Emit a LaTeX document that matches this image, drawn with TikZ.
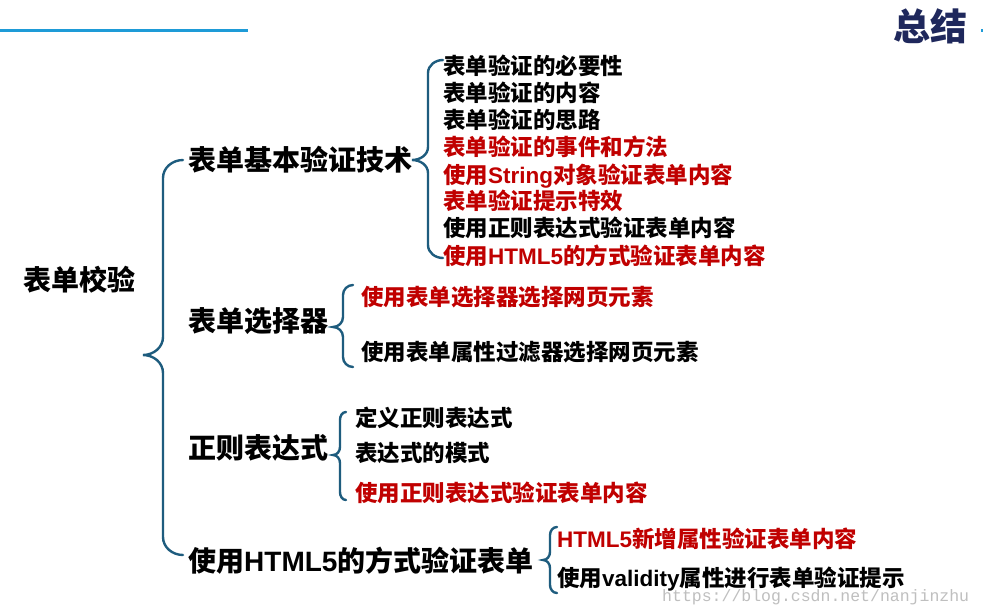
\documentclass[tikz,border=0pt]{standalone}
\usepackage{fontspec}
\setmainfont{Noto Sans CJK SC}
\newfontfamily\latinb{Liberation Sans}[Scale=1.0]
\newfontfamily\wmfont{Liberation Mono}
\definecolor{hotred}{RGB}{192,0,0}
\definecolor{bracecol}{RGB}{30,92,126}
\definecolor{topblue}{RGB}{30,155,215}
\definecolor{navy}{RGB}{31,40,92}
\newcommand\lat[1]{{\latinb\bfseries #1}}
% #1 tip x, #2 tip y, #3 vertical x, #4 end x, #5 top y, #6 bottom y, #7 radius
\newcommand\mybrace[7]{%
  \draw[bracestyle] (#4,#5) to[out=180,in=90] (#3,#5-#7) -- (#3,#2+#7)
    to[out=-90,in=0] (#1,#2) to[out=0,in=90] (#3,#2-#7) -- (#3,#6+#7)
    to[out=-90,in=180] (#4,#6);}
\tikzset{
  bracestyle/.style={draw=bracecol, line width=2.4pt, line cap=round},
  rootnode/.style={anchor=west, inner sep=0pt, font=\fontsize{28}{28}\selectfont\bfseries, text height=23.8pt, text depth=2.8pt},
  lvlone/.style={anchor=west, inner sep=0pt, font=\fontsize{28}{28}\selectfont\bfseries, text height=23.8pt, text depth=2.8pt},
  itemnode/.style={anchor=west, inner sep=0pt, font=\fontsize{22.5}{22.5}\selectfont\bfseries, text height=19.1pt, text depth=2.25pt},
  hot/.style={text=hotred},
}
\begin{document}
\begin{tikzpicture}[x=1pt,y=1pt]
\useasboundingbox (0,0) rectangle (983,-614);
\fill[white] (0,0) rectangle (983,-614);
% top decoration
\draw[topblue, line width=3pt] (0,-30.5) -- (248,-30.5);
\draw[topblue, line width=3pt] (981,-30.5) -- (983,-30.5);
\node[anchor=west, inner sep=0pt, text=navy, font=\fontsize{37}{37}\selectfont\bfseries, text height=31.4pt, text depth=3.7pt] (title) at (893,-27) {总结};
% root
\node[rootnode] (root) at (23,-280) {表单校验};
% level 1
\node[lvlone] (a) at (188,-160) {表单基本验证技术};
\node[lvlone] (b) at (188,-321) {表单选择器};
\node[lvlone] (c) at (188,-448) {正则表达式};
\node[lvlone] (d) at (188,-561) {使用\lat{HTML5}的方式验证表单};
% group a
\node[itemnode] (a1) at (443,-66) {表单验证的必要性};
\node[itemnode] (a2) at (443,-93) {表单验证的内容};
\node[itemnode] (a3) at (443,-120) {表单验证的思路};
\node[itemnode,hot] (a4) at (443,-147) {表单验证的事件和方法};
\node[itemnode,hot] (a5) at (443,-175) {使用\lat{String}对象验证表单内容};
\node[itemnode,hot] (a6) at (443,-201) {表单验证提示特效};
\node[itemnode] (a7) at (443,-228) {使用正则表达式验证表单内容};
\node[itemnode,hot] (a8) at (443,-256) {使用\lat{HTML5}的方式验证表单内容};
% group b
\node[itemnode,hot] (b1) at (361,-297) {使用表单选择器选择网页元素};
\node[itemnode] (b2) at (361,-352) {使用表单属性过滤器选择网页元素};
% group c
\node[itemnode] (c1) at (355,-418) {定义正则表达式};
\node[itemnode] (c2) at (355,-453) {表达式的模式};
\node[itemnode,hot] (c3) at (355,-493) {使用正则表达式验证表单内容};
% group d
\node[itemnode,hot] (d1) at (557,-539) {\lat{HTML5}新增属性验证表单内容};
\node[itemnode] (d2) at (557,-578) {使用\lat{validity}属性进行表单验证提示};
% braces
\mybrace{143}{-355}{163}{183}{-160}{-555}{18}
\mybrace{412}{-160}{428}{443}{-60}{-258}{13}
\mybrace{333}{-327}{343}{353}{-285}{-367}{10}
\mybrace{333}{-455}{340}{346}{-412}{-500}{8}
\mybrace{543}{-560}{550}{557}{-527}{-593}{8}
% watermark
\node[anchor=west, inner sep=0pt, text=black!25, font=\wmfont\fontsize{16.5}{16.5}\selectfont] (wm) at (662,-597) {https://blog.csdn.net/nanjinzhu};
\end{tikzpicture}
\end{document}
